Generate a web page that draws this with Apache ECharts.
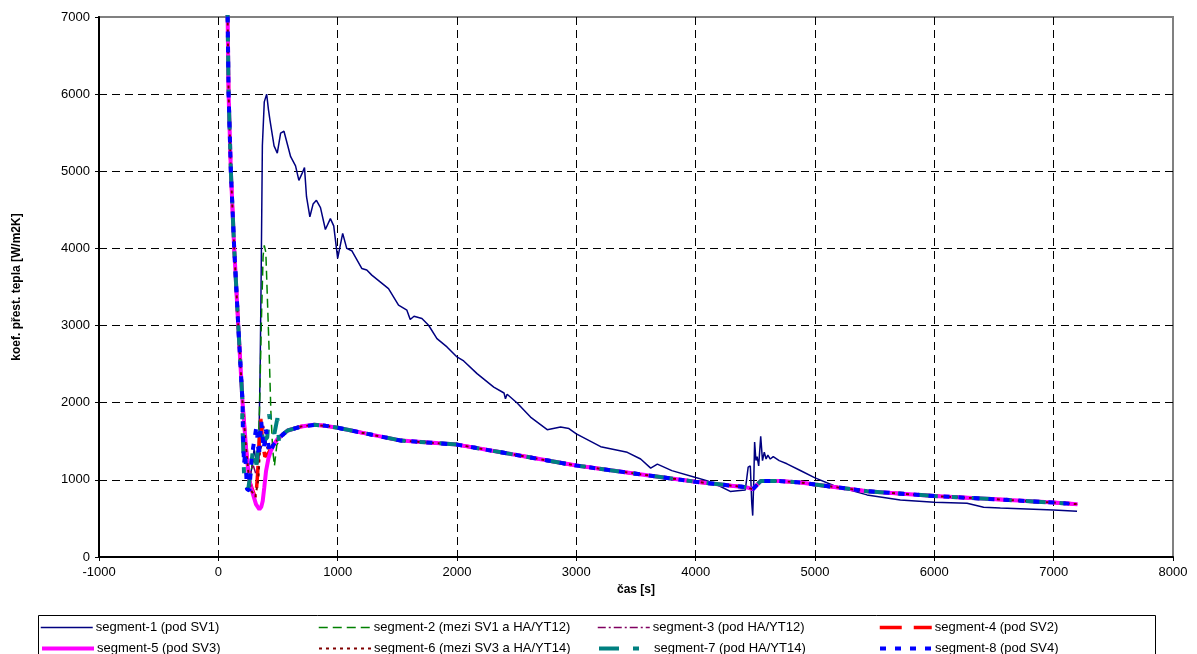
<!DOCTYPE html>
<html>
<head>
<meta charset="utf-8">
<script src="https://cdn.jsdelivr.net/npm/echarts@6/dist/echarts.min.js"></script>
<style>
html,body{margin:0;padding:0;background:#fff;}
#c{width:1197px;height:654px;}
</style>
</head>
<body>
<div id="c"></div>
<script>
// ---- data (time [s], coefficient [W/m2K]) ----
var seriesNames = [
  'segment-1 (pod SV1)', 'segment-2 (mezi SV1 a HA/YT12)', 'segment-3 (pod HA/YT12)', 'segment-4 (pod SV2)',
  'segment-5 (pod SV3)', 'segment-6 (mezi SV3 a HA/YT14)', 'segment-7 (pod HA/YT14)', 'segment-8 (pod SV4)'
];
var xTicks = [-1000, 0, 1000, 2000, 3000, 4000, 5000, 6000, 7000, 8000];
var yTicks = [0, 1000, 2000, 3000, 4000, 5000, 6000, 7000];

// initial quench descent shared by all segments
var descent = [[70,7200],[78,7000],[86,6000],[105,5000],[133,4000],[167,3000],[203,2000],[232,1420],[258,1000]];

// common tail of segments 2..8
var tail = [[581,1640],[693,1691],[804,1713],[900,1700],[1000,1675],[1251,1596],[1531,1509],[2000,1457],
  [2369,1357],[3000,1185],[3500,1080],[4000,975],[4300,925],[4420,905],[4480,880],[4545,985],[4700,985],
  [4880,965],[5000,940],[5436,853],[6000,790],[6553,745],[7000,705],[7200,685]];

var seg1 = [[280,1150],[300,1400],[320,1200],[340,1500],[350,2400],[358,3500],[369,5330],[385,5900],[405,6000],
  [420,5800],[433,5660],[467,5330],[494,5236],[522,5495],[550,5519],[578,5354],[606,5189],[647,5071],[675,4882],
  [703,4976],[722,5047],[739,4670],[767,4410],[794,4575],[822,4623],[856,4528],[897,4245],[939,4387],[967,4292],
  [1000,3870],[1042,4195],[1076,4000],[1118,3970],[1202,3740],[1244,3720],[1286,3654],[1356,3567],[1426,3480],
  [1510,3264],[1580,3199],[1608,3078],[1640,3121],[1706,3091],[1762,3004],[1832,2831],[1916,2723],[2000,2593],
  [2056,2541],[2168,2377],[2308,2203],[2394,2126],[2406,2052],[2420,2110],[2504,1996],[2616,1814],[2756,1650],
  [2868,1684],[2938,1665],[3000,1596],[3204,1430],[3427,1357],[3539,1270],[3623,1152],[3679,1204],[3800,1120],
  [4000,1030],[4100,987],[4200,920],[4290,850],[4350,860],[4416,870],[4440,1164],[4458,1180],[4470,700],
  [4478,537],[4487,1000],[4494,1489],[4505,1250],[4515,1300],[4528,1180],[4545,1563],[4560,1250],[4575,1359],
  [4590,1270],[4605,1320],[4625,1270],[4650,1300],[4700,1250],[4765,1208],[4877,1121],[5000,1026],[5156,926],
  [5436,805],[5715,740],[6000,710],[6274,697],[6413,645],[6553,636],[7000,610],[7196,593]];
var seg2 = [[270,1000],[300,1300],[330,1200],[345,1900],[360,3000],[375,3900],[385,4040],[398,3950],[410,3400],
  [425,2700],[440,1900],[455,1400],[470,1180],[490,1450],[520,1540],[560,1610]];
var seg3 = [[290,1200],[330,1000],[350,1500],[380,1700],[420,1300],[460,1450],[500,1530],[545,1590]];
var seg4 = [[280,900],[314,755],[330,1100],[345,1600],[356,1790],[370,1500],[390,1300],[420,1350],[460,1450],[500,1530],[545,1590]];
var seg5 = [[274,900],[316,683],[344,617],[360,650],[372,726],[385,900],[400,1117],[420,1280],[441,1378],[470,1470],[497,1530],[540,1590]];
var seg6 = [[280,850],[310,780],[335,1000],[350,1400],[380,1500],[420,1400],[470,1480],[520,1550]];
var seg7 = [[270,1100],[290,1400],[320,1200],[350,1700],[380,1500],[410,1550],[425,1850],[440,1700],[470,1600],[495,1800],[510,1450],[540,1590]];
var seg8 = [[240,880],[260,860],[280,1300],[300,1500],[320,1700],[340,1300],[360,1750],[380,1400],[400,1650],[430,1350],[460,1450],[500,1530],[545,1590]];

var seg7Head = [[200,1800],[215,1100],[230,1000],[250,870]];
var seg8Head = [[205,1700],[215,1200],[225,1350]];

// ---- build ----
var FONT = '"Liberation Sans", Arial, sans-serif';
function cut(arr, tmax){ return arr.filter(function(p){return p[0] <= tmax;}); }
var datasets = [
  descent.concat(seg1),
  descent.concat(seg2, tail),
  descent.concat(seg3, tail),
  descent.concat(seg4, tail),
  descent.concat(seg5, tail),
  descent.concat(seg6, tail),
  cut(descent,203).concat(seg7Head, seg7, tail),
  cut(descent,203).concat(seg8Head, seg8, tail)
];
var styles = [
  {color:'#000080', width:1.5, type:'solid'},
  {color:'#008000', width:1.5, type:[9,5]},
  {color:'#800060', width:1.5, type:[8,3,2,3]},
  {color:'#FF0000', width:3.5, type:[22,12]},
  {color:'#FF00FF', width:4, type:'solid'},
  {color:'#800000', width:2, type:[3,4]},
  {color:'#008080', width:4, type:[20,14,6,14]},
  {color:'#0000FF', width:4, type:[6,9]}
];
var series = seriesNames.map(function(n,i){
  return {
    name:n, type:'line', data:datasets[i], showSymbol:false, symbol:'none', clip:true,
    animation:false, z: 2 + i,
    itemStyle:{color:styles[i].color},
    lineStyle:{color:styles[i].color, width:styles[i].width, type:styles[i].type, cap:'butt'}
  };
});
var legPos = [[40,621],[318,621],[597,621],[878,621],[40,642],[318,642],[597,642],[878,642]];
var legends = seriesNames.map(function(n,i){
  return {data:[n], left:legPos[i][0], top:legPos[i][1], itemWidth:52, itemHeight:14, padding:0,
    itemGap:0, selectedMode:false,
    itemStyle:{color:'rgba(0,0,0,0)', borderColor:'rgba(0,0,0,0)', borderWidth:0},
    lineStyle:{width:styles[i].width, color:styles[i].color, type:styles[i].type},
    textStyle:{fontFamily:FONT, fontSize:13, color:'#000', padding:[0,0,0,-2]}};
});
function plain(v){ return String(v); }

var chart = echarts.init(document.getElementById('c'), null, {renderer:'canvas'});
chart.setOption({
  animation:false,
  backgroundColor:'#fff',
  grid:{left:99, right:24, top:17, bottom:97, show:true, borderColor:'#808080', borderWidth:2, containLabel:false},
  legend: legends,
  graphic:[{type:'rect', left:36, top:613, shape:{width:1117, height:50}, style:{fill:'none', stroke:'#000', lineWidth:1}, silent:true}],
  xAxis:{
    type:'value', min:xTicks[0], max:xTicks[xTicks.length-1], interval:1000,
    name:'čas [s]', nameLocation:'middle', nameGap:27,
    nameTextStyle:{fontFamily:FONT, fontSize:12, fontWeight:'bold', color:'#000'},
    axisLine:{show:true, onZero:false, lineStyle:{color:'#000', width:2}},
    axisTick:{show:true, length:4, lineStyle:{color:'#000'}},
    axisLabel:{fontFamily:FONT, fontSize:13, color:'#000', margin:9, formatter:plain},
    splitLine:{show:true, showMinLine:false, showMaxLine:false, lineStyle:{color:'#000', width:1, type:[8,5]}}
  },
  yAxis:{
    type:'value', min:yTicks[0], max:yTicks[yTicks.length-1], interval:1000,
    name:'koef. přest. tepla [W/m2K]', nameLocation:'middle', nameGap:76,
    nameTextStyle:{fontFamily:FONT, fontSize:12, fontWeight:'bold', color:'#000'},
    axisLine:{show:true, onZero:false, lineStyle:{color:'#000', width:2}},
    axisTick:{show:true, length:4, lineStyle:{color:'#000'}},
    axisLabel:{fontFamily:FONT, fontSize:13, color:'#000', margin:9, formatter:plain},
    splitLine:{show:true, showMinLine:false, showMaxLine:false, lineStyle:{color:'#000', width:1, type:[8,5]}}
  },
  series: series
});
</script>
</body>
</html>
